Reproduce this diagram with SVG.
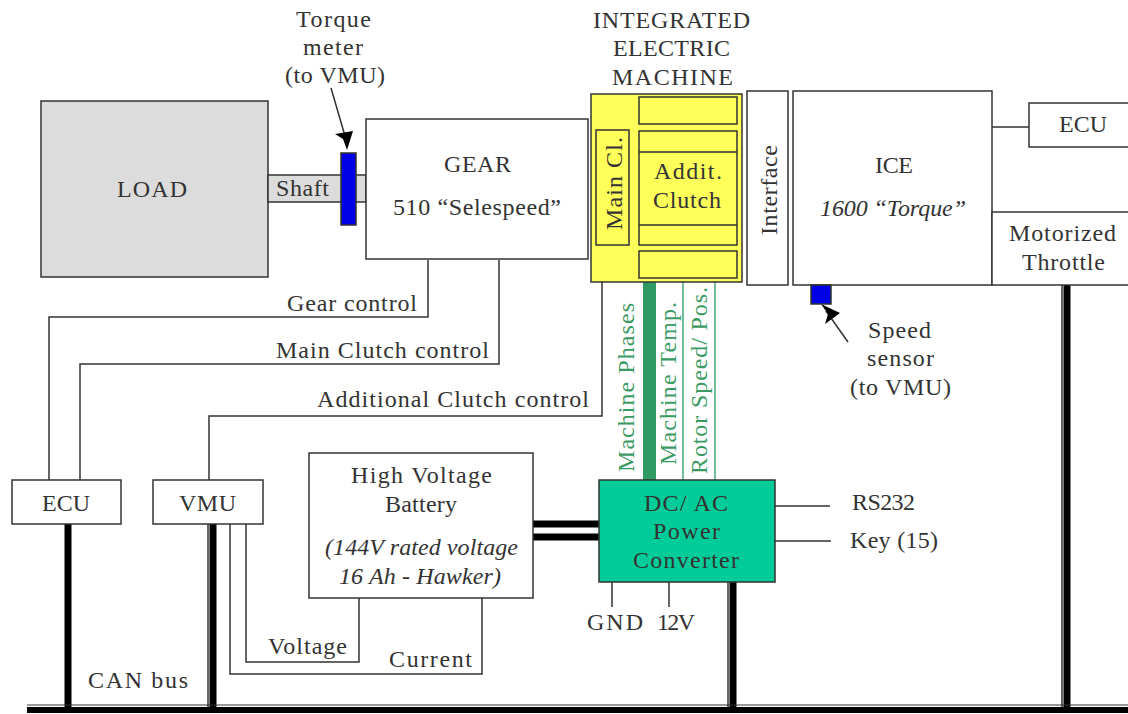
<svg xmlns="http://www.w3.org/2000/svg" width="1128" height="714" viewBox="0 0 1128 714">
<style>
text{font-family:"Liberation Serif","Times New Roman",serif;font-size:24px;fill:#333}
.it{font-style:italic}
.g{fill:#3a9a62}
.b{fill:#fff;stroke:#333;stroke-width:1.5}
.y{fill:#ffff5a;stroke:#333;stroke-width:1.5}
.w{fill:none;stroke:#333;stroke-width:1.5}
.k{fill:none;stroke:#000;stroke-width:7}
</style>
<rect width="1128" height="714" fill="#fff"/>
<g id="connectors">
<path class="w" d="M428 260V317H49V480M499 260V364H80V480M602 282V416H209V480"/>
<path d="M649.500 282V480" fill="none" stroke="#2f9a62" stroke-width="13"/>
<path d="M683 282V480M715 282V480" fill="none" stroke="#4aa878" stroke-width="1.500"/>
<path class="k" d="M68 524V710M213 524V710M733 582V710M1067 285V710"/>
<path class="w" d="M208 524V708M230 524V674H482V598M246 524V662H359V598M728 582V708M1062 285V708"/>
<path class="k" d="M533 524H599M533 537H599"/>
<path class="w" d="M775 506H830M775 541H831M612 582V607M669 582V607M992 127H1029"/>
<path d="M27 705H1128" stroke="#333" stroke-width="1" fill="none"/>
<path d="M27 710H1128" stroke="#000" stroke-width="6" fill="none"/>
<path class="w" d="M331 88L345 136M848 342L826 311"/>
<path d="M335 134L353 131L347 150L343 139Z" fill="#000"/>
<path d="M821 304L840 313L825 324L828 314Z" fill="#000"/>
</g>
<g id="load"><rect class="b" style="fill:#dcdcdc" x="41" y="101" width="227" height="176"/><text x="117" y="197" textLength="70">LOAD</text></g>
<g id="shaft"><rect x="268" y="175" width="98" height="27" fill="#dcdcdc" stroke="#333" stroke-width="1.500"/><text x="276" y="196" textLength="53">Shaft</text></g>
<g id="torque-sensor"><rect x="341" y="153" width="15" height="72" fill="#0000e6" stroke="#333" stroke-width="1.500"/></g>
<g id="torque-label"><text x="296" y="27" textLength="75">Torque</text><text x="303" y="55" textLength="60">meter</text><text x="285" y="83" textLength="100">(to VMU)</text></g>
<g id="gear"><rect class="b" x="366" y="119" width="222" height="140"/><text x="444" y="172" textLength="67">GEAR</text><text x="393" y="215" textLength="168">510 “Selespeed”</text></g>
<g id="iem-label"><text x="593" y="28" textLength="157">INTEGRATED</text><text x="613" y="56" textLength="117">ELECTRIC</text><text x="612" y="85" textLength="121">MACHINE</text></g>
<g id="iem">
<rect class="y" x="591" y="94" width="151" height="188"/>
<rect class="y" x="639" y="97" width="98" height="27"/>
<rect class="y" x="639" y="131" width="98" height="114"/>
<path class="w" d="M639 152H737M639 225H737"/>
<rect class="y" x="639" y="251" width="98" height="27"/>
<rect class="y" x="596" y="130" width="33" height="115"/>
<text transform="translate(622 230) rotate(-90)" textLength="93">Main Cl.</text>
<text x="654" y="179" textLength="68">Addit.</text><text x="653" y="208" textLength="68">Clutch</text>
</g>
<g id="interface"><rect class="b" x="747" y="91" width="41" height="194"/><text transform="translate(777 235) rotate(-90)" textLength="90">Interface</text></g>
<g id="ice"><rect class="b" x="793" y="91" width="199" height="194"/><text x="875" y="173" textLength="38">ICE</text><text class="it" x="820" y="216" textLength="146">1600 “Torque”</text></g>
<g id="ecu-top"><rect class="b" x="1029" y="103" width="110" height="44"/><text x="1059" y="132" textLength="48">ECU</text></g>
<g id="throttle"><rect class="b" x="992" y="212" width="150" height="73"/><text x="1009" y="241" textLength="107">Motorized</text><text x="1022" y="270" textLength="83">Throttle</text></g>
<g id="speed-sensor"><rect x="811" y="285" width="20" height="19" fill="#0000e6" stroke="#333" stroke-width="1.500"/></g>
<g id="speed-label"><text x="868" y="338" textLength="63">Speed</text><text x="867" y="366" textLength="67">sensor</text><text x="850" y="395" textLength="101">(to VMU)</text></g>
<g id="ecu"><rect class="b" x="12" y="480" width="109" height="44"/><text x="42" y="511" textLength="48">ECU</text></g>
<g id="vmu"><rect class="b" x="153" y="480" width="110" height="44"/><text x="179" y="511" textLength="57">VMU</text></g>
<g id="battery"><rect class="b" x="309" y="453" width="224" height="145"/><text x="351" y="483" textLength="141">High Voltage</text><text x="385" y="512" textLength="72">Battery</text><text class="it" x="325" y="555" textLength="193">(144V rated voltage</text><text class="it" x="339" y="584" textLength="162">16 Ah - Hawker)</text></g>
<g id="converter"><rect x="599" y="480" width="176" height="102" fill="#00cc99" stroke="#333" stroke-width="1.500"/><text x="644" y="511" textLength="84">DC/ AC</text><text x="653" y="539" textLength="67">Power</text><text x="633" y="568" textLength="106">Converter</text></g>
<g id="labels">
<text x="287" y="311" textLength="130">Gear control</text><text x="276" y="358" textLength="213">Main Clutch control</text><text x="317" y="407" textLength="272">Additional Clutch control</text>
<text class="g" transform="translate(634 472) rotate(-90)" textLength="169">Machine Phases</text>
<text class="g" transform="translate(676 465) rotate(-90)" textLength="163">Machine Temp.</text>
<text class="g" transform="translate(707 474) rotate(-90)" textLength="187">Rotor Speed/ Pos.</text>
<text x="852" y="510" textLength="63">RS232</text><text x="850" y="548" textLength="88">Key (15)</text>
<text x="587" y="630" textLength="56">GND</text><text x="657" y="630" textLength="38">12V</text>
<text x="268" y="654" textLength="79">Voltage</text><text x="389" y="667" textLength="83">Current</text><text x="88" y="688" textLength="100">CAN bus</text>
</g>
</svg>
